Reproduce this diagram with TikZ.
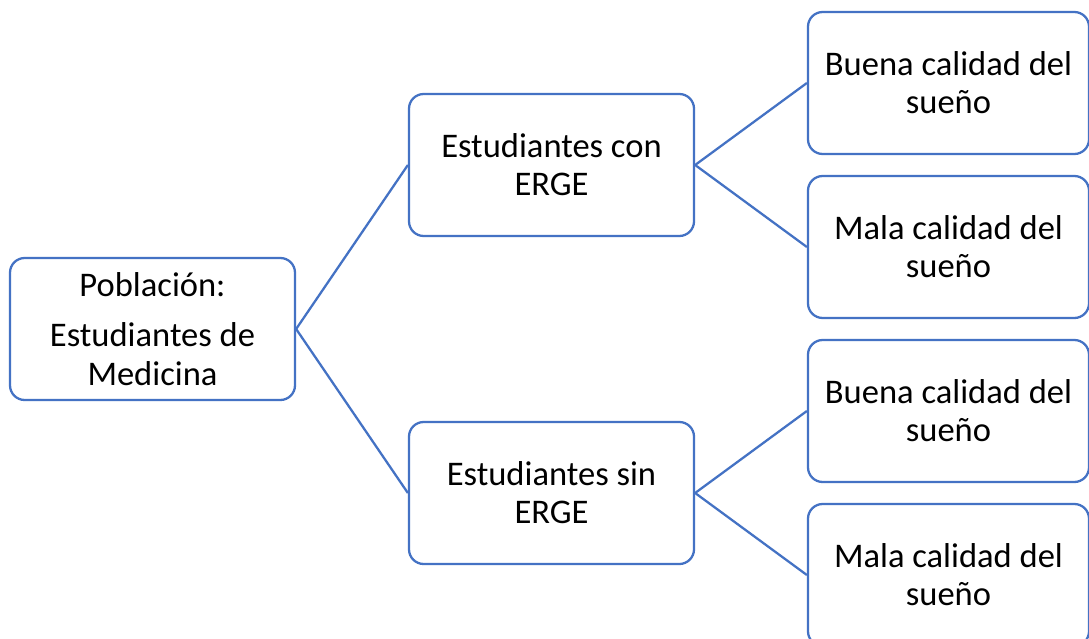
\documentclass[tikz,border=0pt]{standalone}
\usepackage{fontspec}
\setmainfont{Carlito}
\usetikzlibrary{positioning}

\definecolor{boxblue}{HTML}{4472C4}

\tikzset{
	box/.style={draw=boxblue, line width=1.7pt, rounded corners=11pt, rectangle, fill=white,
		minimum width=213.75pt, minimum height=106.5pt, inner sep=0pt, align=center,
		font=\fontsize{25.9}{28.6}\selectfont},
	leafbox/.style={box, minimum width=210.75pt},
	branch/.style={draw=boxblue, line width=1.7pt}
}

\begin{document}
\begin{tikzpicture}[x=0.75pt, y=-0.75pt]
		\clip (0, 0) rectangle (1089, 639);
		\fill[white] (0, 0) rectangle (1089, 639);

		% Population
		\begin{scope}
			\node (pop) at (152.5, 329) [box] {Población:\\[9pt] Estudiantes de\\Medicina};
		\end{scope}

		% Groups
		\begin{scope}
			\node (con) at (551.5, 165) [box] {Estudiantes con\\ERGE};
			\node (sin) at (551.5, 493) [box] {Estudiantes sin\\ERGE};
		\end{scope}

		% Sleep quality
		\begin{scope}
			\node (con_buena) at (948.5, 83) [leafbox] {Buena calidad del\\sueño};
			\node (con_mala) [leafbox, below = 14.8pt of con_buena] {Mala calidad del\\sueño};
			\node (sin_buena) [leafbox, below = 14.8pt of con_mala] {Buena calidad del\\sueño};
			\node (sin_mala) [leafbox, below = 14.8pt of sin_buena] {Mala calidad del\\sueño};
		\end{scope}

		% Branches
		\draw[branch] (pop.east) -- (con.west);
		\draw[branch] (pop.east) -- (sin.west);
		\draw[branch] (con.east) -- (con_buena.west);
		\draw[branch] (con.east) -- (con_mala.west);
		\draw[branch] (sin.east) -- (sin_buena.west);
		\draw[branch] (sin.east) -- (sin_mala.west);

	\end{tikzpicture}
\end{document}
